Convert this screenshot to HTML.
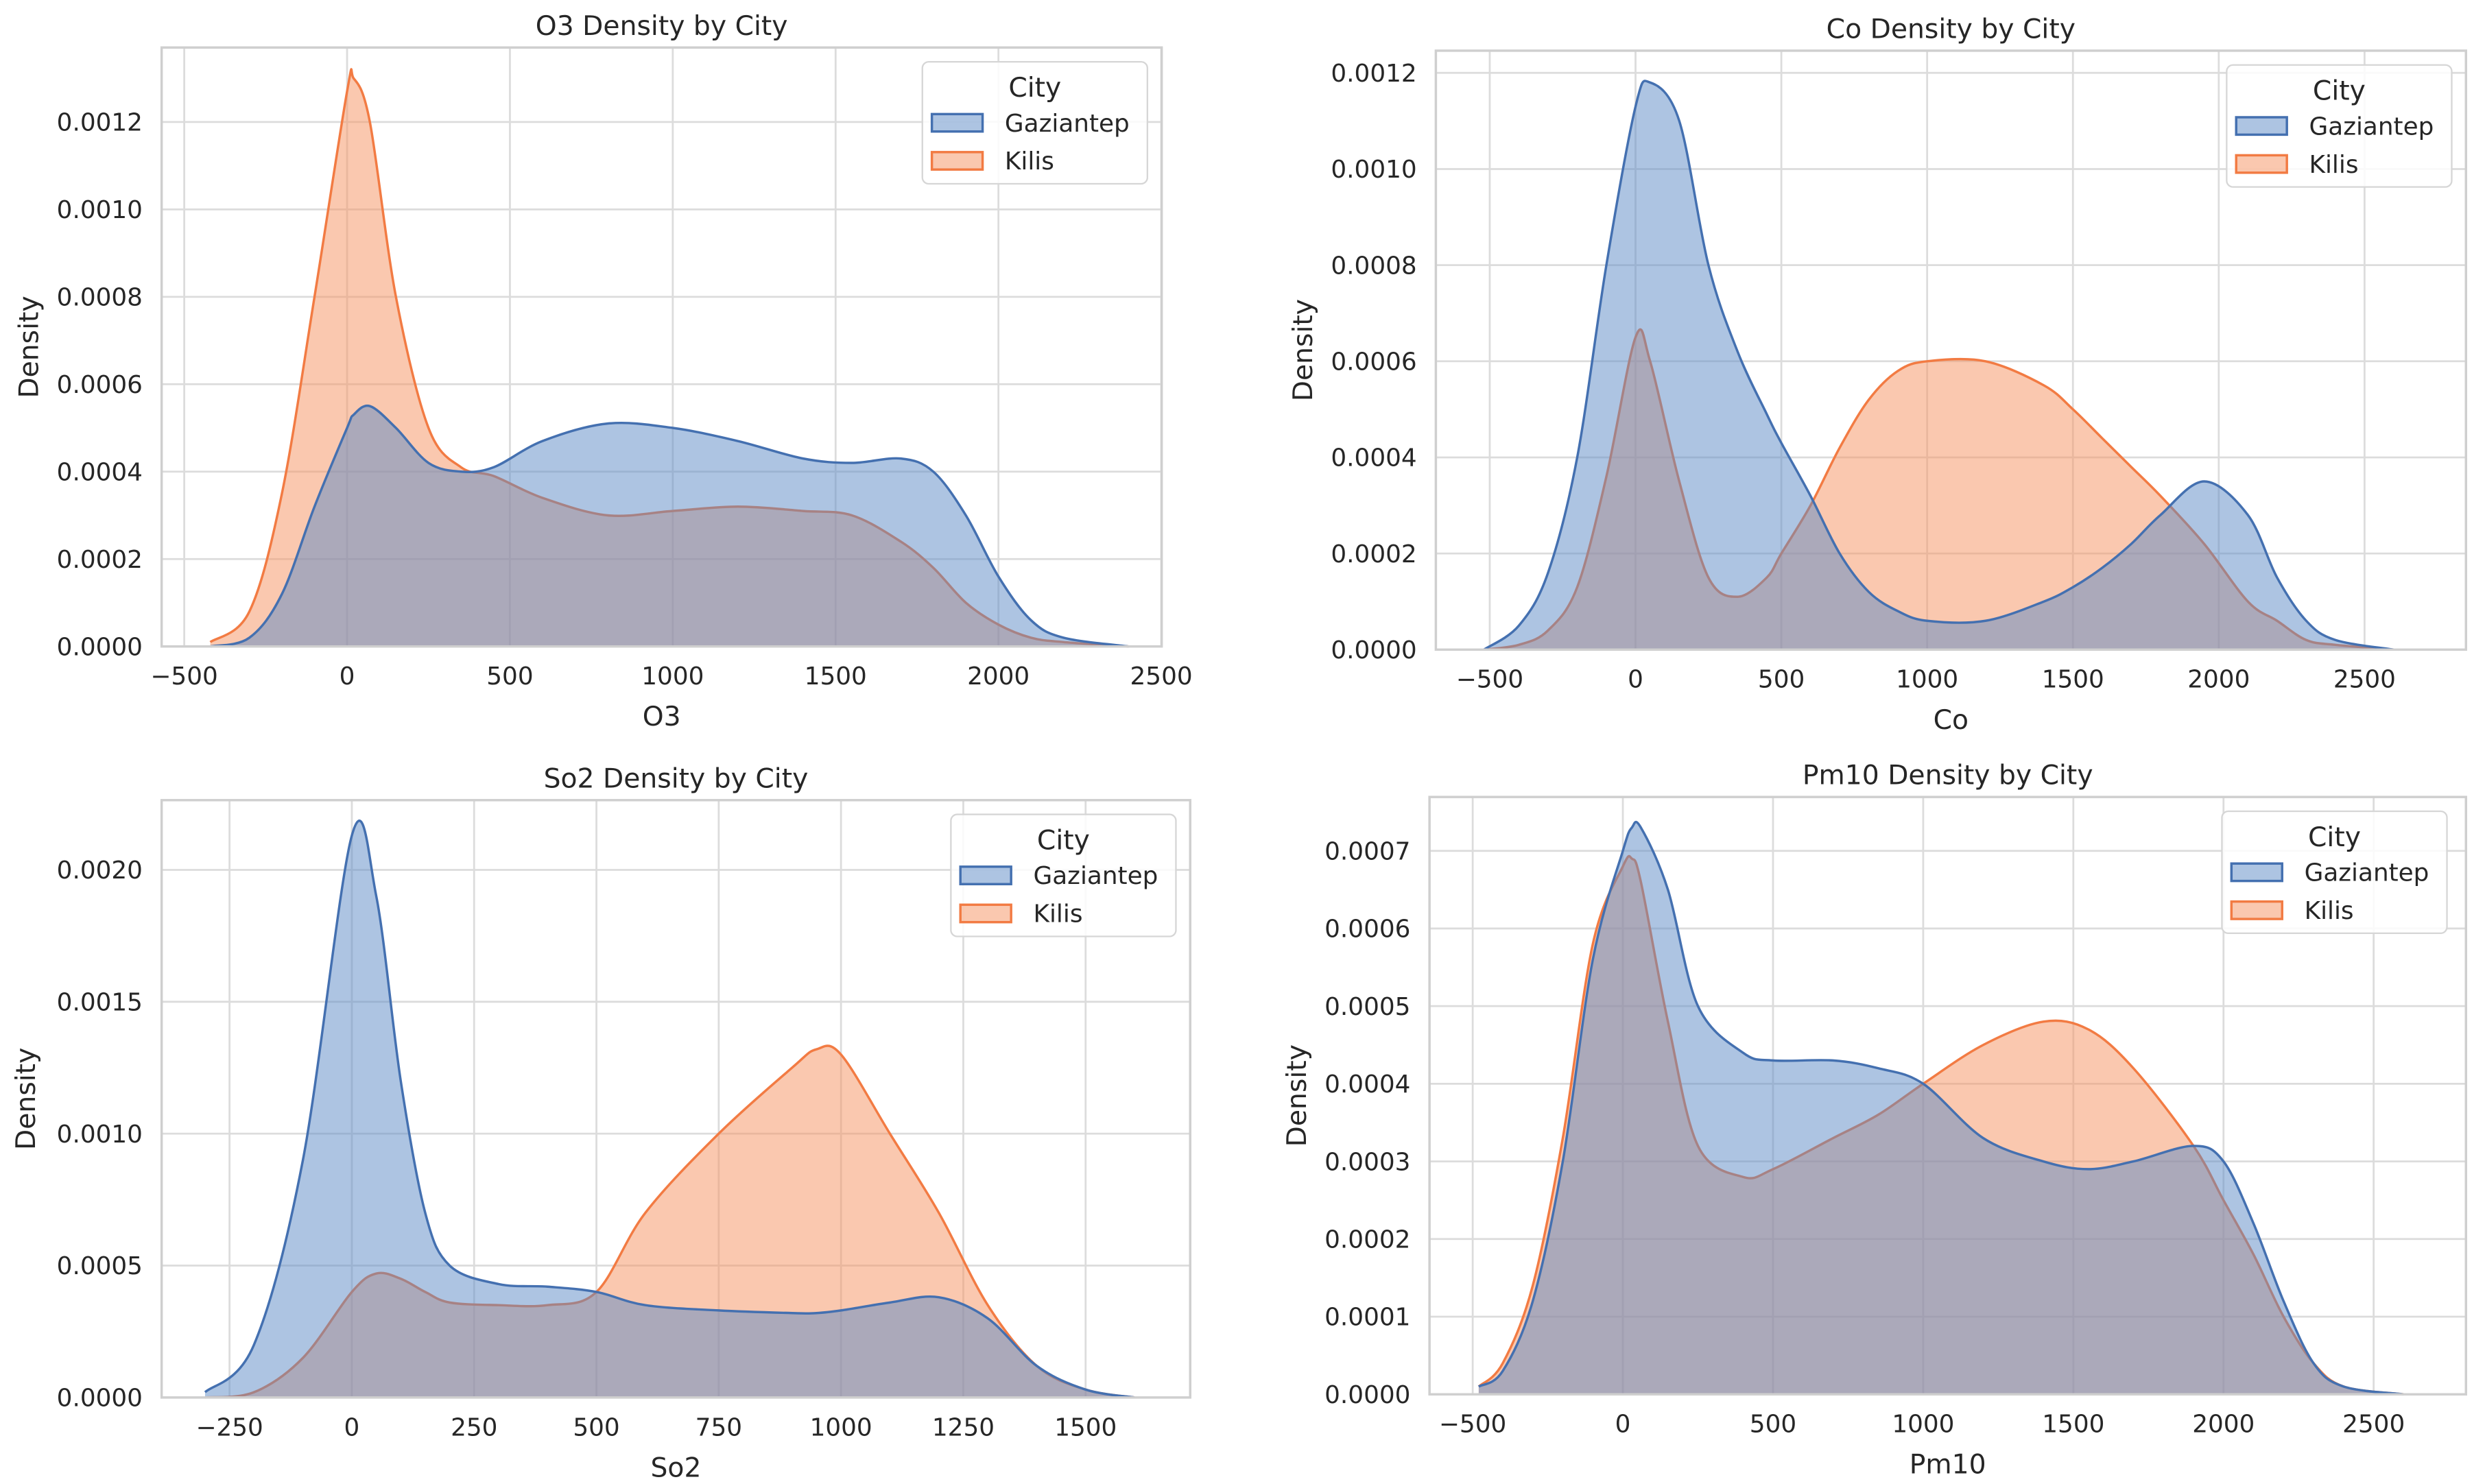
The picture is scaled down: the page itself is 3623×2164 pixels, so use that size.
<!DOCTYPE html>
<html><head><meta charset="utf-8"><style>
html,body{margin:0;padding:0;background:#fff;}
svg{display:block;}
text{font-family:"DejaVu Sans","Liberation Sans",sans-serif;fill:#262626;}
</style></head><body>
<svg id="fig" width="3623" height="2164" viewBox="0 0 1568 936.6" preserveAspectRatio="none" xmlns="http://www.w3.org/2000/svg"></svg>
<script>
// ---- O3 data ----
const o3X = [-420,-300,-200,-100,0,20,70,150,250,350,450,600,800,1000,1200,1400,1550,1700,1800,1900,2000,2100,2200,2400];
const o3Gaz = [0,0.00002,0.00012,0.00032,0.0005,0.00053,0.00055,0.0005,0.00042,0.0004,0.00041,0.00047,0.00051,0.0005,0.00047,0.00043,0.00042,0.00043,0.0004,0.0003,0.00016,0.00006,0.00002,0];
const o3Kil = [0.00001,0.00008,0.00035,0.0008,0.00127,0.0013,0.0012,0.0008,0.0005,0.00041,0.00039,0.00034,0.0003,0.00031,0.00032,0.00031,0.0003,0.00024,0.00018,0.0001,0.00005,0.00002,0.00001,0];
const o3XTicks = [-500,0,500,1000,1500,2000,2500];
const o3YTicks = [0,0.0002,0.0004,0.0006,0.0008,0.001,0.0012];
// ---- Co data ----
const coX = [-520,-400,-300,-200,-100,0,50,150,250,350,450,500,600,700,800,900,1000,1200,1400,1500,1600,1700,1800,1950,2100,2200,2300,2400,2600];
const coGaz = [0,0.00005,0.00016,0.0004,0.0008,0.00113,0.00118,0.0011,0.0008,0.00062,0.00049,0.00043,0.00032,0.0002,0.00012,0.00008,0.00006,0.00006,0.0001,0.00013,0.00017,0.00022,0.00028,0.00035,0.00028,0.00015,0.00006,0.00002,0];
const coKil = [0,0.00001,0.00004,0.00013,0.00036,0.00065,0.0006,0.00035,0.00015,0.00011,0.00015,0.0002,0.0003,0.00042,0.00052,0.00058,0.0006,0.0006,0.00055,0.0005,0.00044,0.00038,0.00032,0.00022,0.0001,0.00006,0.00002,0.00001,0];
const coXTicks = [-500,0,500,1000,1500,2000,2500];
const coYTicks = [0,0.0002,0.0004,0.0006,0.0008,0.001,0.0012];
// ---- So2 data ----
const soX = [-300,-200,-100,0,50,100,150,200,300,400,500,600,750,900,950,1000,1100,1200,1300,1400,1500,1600];
const soGaz = [0.00002,0.0002,0.0009,0.00213,0.0019,0.0012,0.0007,0.0005,0.00043,0.00042,0.0004,0.00035,0.00033,0.00032,0.00032,0.00033,0.00036,0.00038,0.0003,0.00012,0.00003,0];
const soKil = [0,0.00002,0.00015,0.0004,0.00047,0.00045,0.0004,0.00036,0.00035,0.00035,0.0004,0.0007,0.001,0.00125,0.00132,0.0013,0.001,0.0007,0.00035,0.00012,0.00003,0];
const soXTicks = [-250,0,250,500,750,1000,1250,1500];
const soYTicks = [0,0.0005,0.001,0.0015,0.002];
// ---- Pm10 data ----
const pmX = [-480,-400,-300,-200,-100,0,30,60,150,250,400,500,700,850,1000,1200,1400,1550,1700,1900,2000,2100,2200,2300,2400,2600];
const pmGaz = [0.00001,0.00003,0.00012,0.0003,0.00056,0.0007,0.00073,0.00073,0.00065,0.0005,0.00044,0.00043,0.00043,0.00042,0.0004,0.00033,0.0003,0.00029,0.0003,0.00032,0.0003,0.00022,0.00012,0.00004,0.00001,0];
const pmKil = [0.00001,0.00004,0.00014,0.00033,0.00058,0.00068,0.00069,0.00066,0.00048,0.00032,0.00028,0.00029,0.00033,0.00036,0.0004,0.00045,0.00048,0.00047,0.00042,0.00032,0.00025,0.00018,0.0001,0.00004,0.00001,0];
const pmXTicks = [-500,0,500,1000,1500,2000,2500];
const pmYTicks = [0,0.0001,0.0002,0.0003,0.0004,0.0005,0.0006,0.0007];

const NS='http://www.w3.org/2000/svg';
const svg=document.getElementById('fig');
function mk(tag,attrs,parent){const e=document.createElementNS(NS,tag);for(const k in attrs)e.setAttribute(k,attrs[k]);(parent||svg).appendChild(e);return e;}
function smooth(pts){let d='M'+pts[0][0]+','+pts[0][1];for(let i=0;i<pts.length-1;i++){const p0=pts[Math.max(0,i-1)],p1=pts[i],p2=pts[i+1],p3=pts[Math.min(pts.length-1,i+2)];const c1x=p1[0]+(p2[0]-p0[0])/6,c1y=p1[1]+(p2[1]-p0[1])/6,c2x=p2[0]-(p3[0]-p1[0])/6,c2y=p2[1]-(p3[1]-p1[1])/6;d+=' C'+c1x+','+c1y+' '+c2x+','+c2y+' '+p2[0]+','+p2[1];}return d;}
function fmt(v){return v<0?'\u2212'+Math.abs(v):String(v);}
const BLUE_F='#5b89c5', BLUE_L='#4470b0', OR_F='#f5915f', OR_L='#f27b43';

function panel(cfg){
  const g=mk('g',{});
  
  
  const sx=v=>cfg.px0+(v-cfg.x0)*(cfg.px1-cfg.px0)/(cfg.x1-cfg.x0);
  const sy=v=>cfg.py0+v*(cfg.py1-cfg.py0)/(cfg.y1);
  const L=cfg.L,R=cfg.R,T=cfg.T,B=cfg.B;
  cfg.xt.forEach(t=>{const gl=mk('line',{x1:sx(t),x2:sx(t),y1:T,y2:B,stroke:'#dcdcdc','stroke-width':1.2},g);
    const tx=mk('text',{x:sx(t),y:B+24,'text-anchor':'middle','font-size':15.5},g);tx.textContent=fmt(t);});
  cfg.yt.forEach(t=>{const gl=mk('line',{x1:L,x2:R,y1:sy(t),y2:sy(t),stroke:'#dcdcdc','stroke-width':1.2},g);
    const tx=mk('text',{x:L-12,y:sy(t)+5.5,'text-anchor':'end','font-size':15.5},g);tx.textContent=t.toFixed(4);});
  // Kilis first, Gaziantep on top
  [[cfg.kil,OR_F,OR_L,'kilis'],[cfg.gaz,BLUE_F,BLUE_L,'gaziantep']].forEach(s=>{
    const pts=cfg.xs.map((x,j)=>[sx(x),sy(s[0][j])]);
    const d=smooth(pts);
    const f=mk('path',{d:d+' L'+pts[pts.length-1][0]+','+sy(0)+' L'+pts[0][0]+','+sy(0)+' Z',fill:s[1],'fill-opacity':0.5,stroke:'none'},g);
    
    const l=mk('path',{d:d,fill:'none',stroke:s[2],'stroke-width':1.5},g);
    
  });
  const fr=mk('rect',{x:L,y:T,width:R-L,height:B-T,fill:'none',stroke:'#cfcfcf','stroke-width':1.5},g);
  
  const ti=mk('text',{x:(L+R)/2,y:T-8,'text-anchor':'middle','font-size':17},g);ti.textContent=cfg.title;
  const xl=mk('text',{x:(L+R)/2,y:B+50,'text-anchor':'middle','font-size':17},g);xl.textContent=cfg.xlabel;
  const yl=mk('text',{x:0,y:0,'text-anchor':'middle','font-size':17,transform:'translate('+(cfg.ylx)+','+((T+B)/2)+') rotate(-90)'},g);yl.textContent='Density';
  const lg=mk('g',{},g);
  const lx=cfg.lx,ly=T+9;
  mk('rect',{x:lx,y:ly,width:142,height:77,rx:4,fill:'#fff','fill-opacity':0.85,stroke:'#d6d6d6','stroke-width':1},lg);
  const lt=mk('text',{x:lx+71,y:ly+22,'text-anchor':'middle','font-size':17},lg);lt.textContent='City';
  [['Gaziantep',BLUE_F,BLUE_L],['Kilis',OR_F,OR_L]].forEach((e,i)=>{
    const ent=mk('g',{},lg);
    mk('rect',{x:lx+6,y:ly+33+i*24,width:32,height:11,fill:e[1],'fill-opacity':0.5,stroke:e[2],'stroke-width':1.5},ent);
    const t=mk('text',{x:lx+52,y:ly+44+i*24,'font-size':15.5},ent);t.textContent=e[0];
  });
}
panel({name:'o3-panel',title:'O3 Density by City',xlabel:'O3',L:102,R:733,T:30,B:408,x0:0,x1:2000,px0:219,px1:630,y1:0.0012,py0:408,py1:77,xs:o3X,gaz:o3Gaz,kil:o3Kil,xt:o3XTicks,yt:o3YTicks,ylx:24,lx:582});
panel({name:'co-panel',title:'Co Density by City',xlabel:'Co',L:906,R:1556,T:32,B:410,x0:0,x1:2000,px0:1032,px1:1400,y1:0.0012,py0:410,py1:46,xs:coX,gaz:coGaz,kil:coKil,xt:coXTicks,yt:coYTicks,ylx:828,lx:1405});
panel({name:'so2-panel',title:'So2 Density by City',xlabel:'So2',L:102,R:751,T:505,B:882,x0:0,x1:1500,px0:222,px1:685,y1:0.002,py0:882,py1:549,xs:soX,gaz:soGaz,kil:soKil,xt:soXTicks,yt:soYTicks,ylx:22,lx:600});
panel({name:'pm10-panel',title:'Pm10 Density by City',xlabel:'Pm10',L:902,R:1556,T:503,B:880,x0:0,x1:2000,px0:1024,px1:1403,y1:0.0007,py0:880,py1:537,xs:pmX,gaz:pmGaz,kil:pmKil,xt:pmXTicks,yt:pmYTicks,ylx:824,lx:1402});
</script>
</body></html>
